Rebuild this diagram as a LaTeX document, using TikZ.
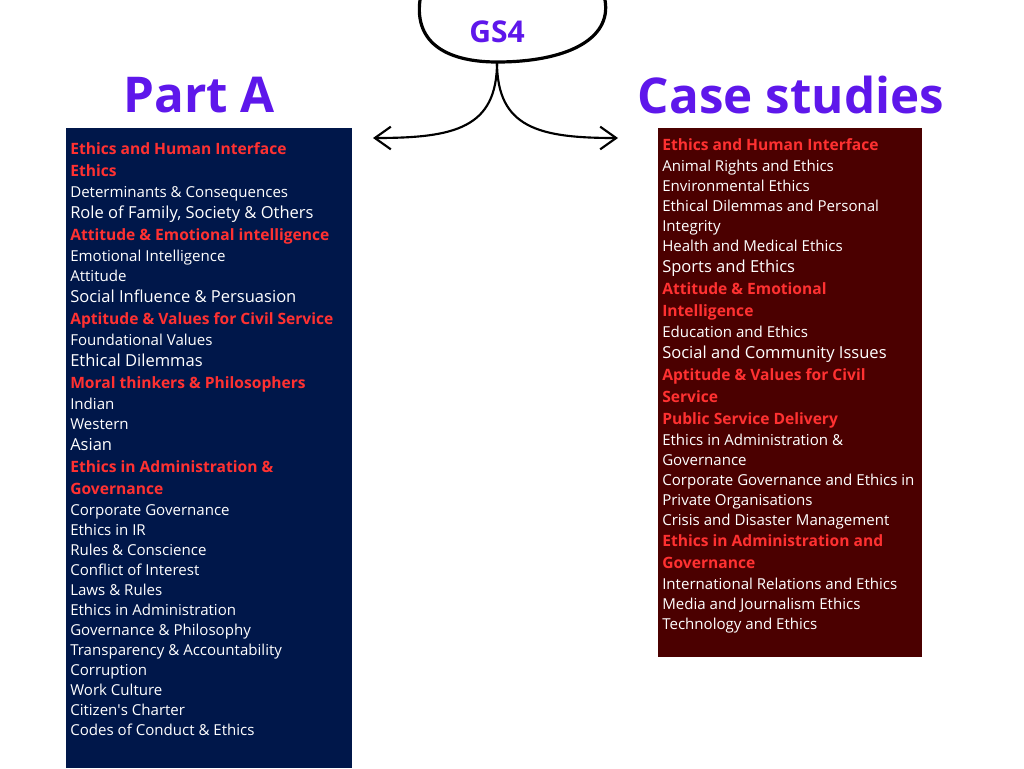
\documentclass[tikz,border=0pt]{standalone}
\usepackage{fontspec}
\setmainfont{Open Sans}
\usetikzlibrary{arrows.meta}
\definecolor{navy}{HTML}{00174A}
\definecolor{maroon}{HTML}{4B0000}
\definecolor{hred}{HTML}{FF3131}
\definecolor{cpurple}{HTML}{5E17EB}
\tikzset{
  line/.style={anchor=west,inner sep=0pt,text height=1.5ex,text depth=0.1ex,yshift=-1.3pt},
  sm/.style={line,text=white,font=\fontsize{11.3}{13}\selectfont},
  lg/.style={line,text=white,font=\fontsize{12.4}{14}\selectfont},
  hd/.style={line,text=hred,font=\bfseries\fontsize{11.7}{14}\selectfont},
  title/.style={inner sep=0pt,text=cpurple,font=\bfseries\fontsize{37}{40}\selectfont},
  barb/.style={line width=1.6pt,-{Straight Barb[length=12pt,width=17pt,line width=1.6pt]}},
}
\begin{document}
\begin{tikzpicture}[x=0.75pt,y=-0.75pt]
\useasboundingbox (0,0) rectangle (1024,768);
\fill[white] (0,0) rectangle (1024,768);
% boxes
\fill[navy] (66,128) rectangle (352,768);
\fill[maroon] (658,128) rectangle (922,657);
% cloud
\draw[line width=2.4pt] (420,0) .. controls (414,45) and (450,62) .. (497,62)
  .. controls (565,62) and (612,40) .. (605,0);
\coordinate (stem) at (497,62);
\node[title,font=\bfseries\fontsize{22.5}{24}\selectfont] (gs4) at (497,32) {GS4};
\coordinate (lt) at (373,138);
\coordinate (rt) at (618,138);
\draw[barb] (stem) .. controls (497,128) and (455,138) .. (lt);
\draw[barb] (stem) .. controls (497,128) and (539,138) .. (rt);
% titles
\node[title] (pa) at (199,95) {Part A};
\node[title] (cs) at (791,95) {Case studies};
% left column
\node[hd] (l1) at (70,148) {Ethics and Human Interface};
\node[hd] (l2) at (70,170) {Ethics};
\node[sm] (l3) at (70,191) {Determinants \& Consequences};
\node[lg] (l4) at (70,212) {Role of Family, Society \& Others};
\node[hd] (l5) at (70,234) {Attitude \& Emotional intelligence};
\node[sm] (l6) at (70,255) {Emotional Intelligence};
\node[sm] (l7) at (70,275) {Attitude};
\node[lg] (l8) at (70,296) {Social Influence \& Persuasion};
\node[hd] (l9) at (70,318) {Aptitude \& Values for Civil Service};
\node[sm] (l10) at (70,339) {Foundational Values};
\node[lg] (l11) at (70,360) {Ethical Dilemmas};
\node[hd] (l12) at (70,382) {Moral thinkers \& Philosophers};
\node[sm] (l13) at (70,403) {Indian};
\node[sm] (l14) at (70,423) {Western};
\node[lg] (l15) at (70,444) {Asian};
\node[hd] (l16) at (70,466) {Ethics in Administration \&};
\node[hd] (l17) at (70,488) {Governance};
\node[sm] (l18) at (70,509) {Corporate Governance};
\node[sm] (l19) at (70,529) {Ethics in IR};
\node[sm] (l20) at (70,549) {Rules \& Conscience};
\node[sm] (l21) at (70,569) {Conflict of Interest};
\node[sm] (l22) at (70,589) {Laws \& Rules};
\node[sm] (l23) at (70,609) {Ethics in Administration};
\node[sm] (l24) at (70,629) {Governance \& Philosophy};
\node[sm] (l25) at (70,649) {Transparency \& Accountability};
\node[sm] (l26) at (70,669) {Corruption};
\node[sm] (l27) at (70,689) {Work Culture};
\node[sm] (l28) at (70,709) {Citizen\textquotesingle s Charter};
\node[sm] (l29) at (70,729) {Codes of Conduct \& Ethics};
% right column
\node[hd] (r1) at (662,144) {Ethics and Human Interface};
\node[sm] (r2) at (662,165) {Animal Rights and Ethics};
\node[sm] (r3) at (662,185) {Environmental Ethics};
\node[sm] (r4) at (662,205) {Ethical Dilemmas and Personal};
\node[sm] (r5) at (662,225) {Integrity};
\node[sm] (r6) at (662,245) {Health and Medical Ethics};
\node[lg] (r7) at (662,266) {Sports and Ethics};
\node[hd] (r8) at (662,288) {Attitude \& Emotional};
\node[hd] (r9) at (662,310) {Intelligence};
\node[sm] (r10) at (662,331) {Education and Ethics};
\node[lg] (r11) at (662,352) {Social and Community Issues};
\node[hd] (r12) at (662,374) {Aptitude \& Values for Civil};
\node[hd] (r13) at (662,396) {Service};
\node[hd] (r14) at (662,418) {Public Service Delivery};
\node[sm] (r15) at (662,439) {Ethics in Administration \&};
\node[sm] (r16) at (662,459) {Governance};
\node[sm] (r17) at (662,479) {Corporate Governance and Ethics in};
\node[sm] (r18) at (662,499) {Private Organisations};
\node[sm] (r19) at (662,519) {Crisis and Disaster Management};
\node[hd] (r20) at (662,540) {Ethics in Administration and};
\node[hd] (r21) at (662,562) {Governance};
\node[sm] (r22) at (662,583) {International Relations and Ethics};
\node[sm] (r23) at (662,603) {Media and Journalism Ethics};
\node[sm] (r24) at (662,623) {Technology and Ethics};
\end{tikzpicture}
\end{document}
